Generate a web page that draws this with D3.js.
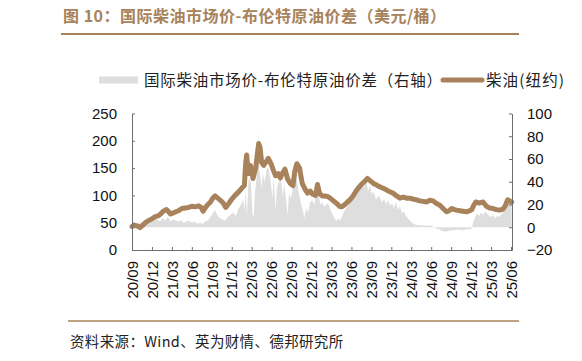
<!DOCTYPE html>
<html><head><meta charset="utf-8">
<script src="https://cdn.jsdelivr.net/npm/d3@7"></script>
<style>body{margin:0;background:#fff}svg{display:block}</style>
</head><body><svg id="c" width="582" height="361"></svg>
<script>
const title = "图 10：国际柴油市场价-布伦特原油价差（美元/桶）";
const source = "资料来源：Wind、英为财情、德邦研究所";
const seriesNames = ["国际柴油市场价-布伦特原油价差（右轴）", "柴油(纽约)"];
const tickLabels = ["20/09","20/12","21/03","21/06","21/09","21/12","22/03","22/06","22/09","22/12","23/03","23/06","23/09","23/12","24/03","24/06","24/09","24/12","25/03","25/06"];
const tickMonths = [0,3,6,9,12,15,18,21,24,27,30,33,36,39,42,45,48,51,54,57];
const leftTicks = [0,50,100,150,200,250];
const rightTicks = [-20,0,20,40,60,80,100];
// [months since 2020-09, USD/bbl]
const diesel = [[0,43],[0.4,45],[0.8,44],[1.2,41],[1.6,45],[2.0,50],[2.5,54],[3.0,57],[3.5,61],[4.0,63],[4.3,66],[4.7,71],[5.2,74],[5.5,70],[5.8,66],[6.2,68],[6.6,70],[7.0,72],[7.5,76],[8.0,77],[8.5,78],[9.0,80],[9.5,79],[10.0,81],[10.4,78],[10.7,71],[11.0,77],[11.3,82],[11.8,88],[12.2,96],[12.5,99],[12.9,95],[13.3,91],[13.7,86],[14.1,78],[14.6,86],[15.0,93],[15.5,100],[16.0,106],[16.5,113],[16.9,118],[17.1,160],[17.25,174],[17.4,150],[17.6,140],[17.8,155],[18.2,131],[18.6,150],[18.9,180],[19.05,195],[19.25,188],[19.5,160],[19.8,155],[20.2,162],[20.5,168],[20.9,158],[21.3,145],[21.6,136],[22.0,140],[22.3,132],[22.7,142],[23.0,148],[23.4,130],[23.8,122],[24.2,118],[24.5,145],[24.8,158],[25.2,150],[25.6,122],[26.0,112],[26.4,104],[26.8,108],[27.2,102],[27.6,100],[27.9,120],[28.2,104],[28.6,99],[29.0,99],[29.4,98],[29.8,95],[30.3,90],[30.8,85],[31.2,80],[31.5,79],[31.9,82],[32.4,88],[32.8,92],[33.3,100],[33.7,108],[34.0,113],[34.5,120],[35.0,126],[35.4,131],[35.8,127],[36.3,122],[36.8,119],[37.2,116],[37.6,114],[38.0,112],[38.4,109],[38.9,106],[39.3,104],[39.8,99],[40.3,95],[40.8,97],[41.3,95],[41.8,95],[42.3,93],[42.8,92],[43.3,90],[43.8,89],[44.3,88],[44.8,91],[45.3,90],[45.8,85],[46.3,82],[46.8,76],[47.3,70],[47.7,72],[48.1,76],[48.5,74],[48.8,73],[49.3,72],[49.8,71],[50.3,70],[50.8,72],[51.1,74],[51.4,82],[51.7,88],[52.2,86],[52.8,88],[53.3,80],[53.8,77],[54.3,76],[54.8,74],[55.3,73],[55.8,75],[56.1,80],[56.5,92],[56.8,90],[57.1,88]];
// [months since 2020-09, USD/bbl] right axis
const spread = [[0,3],[0.3,2],[0.6,4],[1.0,3],[1.4,5],[1.8,4],[2.2,6],[2.6,5],[3.0,7],[3.4,6],[3.8,7],[4.2,5],[4.6,8],[5.0,6],[5.4,9],[5.8,5],[6.2,7],[6.6,6],[7.0,5],[7.4,6],[7.8,4],[8.2,5],[8.6,6],[9.0,4],[9.4,5],[9.8,3],[10.2,4],[10.6,3],[11.0,5],[11.4,6],[11.8,9],[12.2,13],[12.5,15],[12.8,11],[13.2,8],[13.6,7],[14.0,6],[14.4,9],[14.8,11],[15.2,13],[15.6,10],[16.0,16],[16.4,20],[16.7,24],[16.9,15],[17.1,32],[17.3,10],[17.5,40],[17.7,44],[17.9,38],[18.1,12],[18.3,9],[18.5,30],[18.8,47],[19.0,85],[19.15,50],[19.3,44],[19.5,35],[19.7,48],[19.9,40],[20.1,45],[20.3,53],[20.6,50],[20.9,38],[21.1,25],[21.3,44],[21.6,15],[21.8,35],[22.1,40],[22.4,42],[22.7,28],[22.9,38],[23.2,23],[23.4,10],[23.6,30],[23.9,25],[24.2,35],[24.5,44],[24.8,42],[25.1,30],[25.4,21],[25.7,15],[25.9,8],[26.2,17],[26.5,13],[26.8,22],[27.1,24],[27.4,20],[27.7,30],[28.0,33],[28.3,20],[28.6,22],[28.9,18],[29.2,20],[29.5,21],[29.8,16],[30.1,12],[30.4,9],[30.7,5],[31.0,8],[31.3,6],[31.6,10],[31.9,14],[32.2,17],[32.5,19],[32.8,23],[33.1,28],[33.4,32],[33.7,35],[34.0,37],[34.3,34],[34.6,38],[34.9,35],[35.2,41],[35.5,32],[35.8,36],[36.1,29],[36.4,31],[36.7,24],[37.0,28],[37.3,26],[37.6,22],[37.9,25],[38.2,20],[38.5,24],[38.8,19],[39.1,21],[39.4,17],[39.7,22],[40.0,15],[40.3,19],[40.6,12],[40.9,14],[41.2,10],[41.5,8],[41.8,6],[42.1,4],[42.4,3],[42.7,2],[43.0,2],[43.3,1.5],[43.6,2],[43.9,1],[44.2,1.5],[44.5,1],[44.8,2],[45.1,1],[45.4,0.5],[45.7,-1],[46.0,-1.5],[46.3,-2],[46.6,-3],[46.9,-3.5],[47.2,-4],[47.5,-3],[47.8,-3.5],[48.1,-2.5],[48.4,-3],[48.7,-2],[49.0,-2.5],[49.3,-2],[49.6,-3],[49.9,-2.5],[50.2,-2],[50.5,-1.5],[50.8,-2],[51.1,-1],[51.3,4],[51.6,9],[51.9,12],[52.2,10],[52.5,13],[52.8,11],[53.1,14],[53.4,12],[53.7,10],[54.0,9],[54.3,11],[54.6,8],[54.9,10],[55.2,9],[55.5,11],[55.8,13],[56.1,16],[56.4,20],[56.7,24],[57.0,22],[57.1,19]];

const brown = "#a8825a", grey = "#dedede", axisCol = "#6e6e6e";
const svg = d3.select("#c");
const x = d3.scaleLinear().domain([0, 57.15]).range([132, 512]);
const yL = d3.scaleLinear().domain([0, 250]).range([250, 113.5]);
const yR = d3.scaleLinear().domain([-20, 100]).range([250, 113.5]);

// title
svg.append("text").attr("x", 63).attr("y", 22).text(title)
  .attr("font-family", "'Noto Sans CJK SC', sans-serif").attr("font-weight", "bold")
  .attr("font-size", 16).attr("letter-spacing", 0.5).attr("fill", brown);
svg.append("line").attr("x1", 61).attr("x2", 519).attr("y1", 34).attr("y2", 34)
  .attr("stroke", brown).attr("stroke-width", 2);

// legend
const lg = svg.append("g").attr("font-family", "'Noto Sans CJK SC', sans-serif").attr("font-size", 15.5).attr("fill", "#222");
lg.append("rect").attr("x", 99).attr("y", 76.5).attr("width", 39).attr("height", 7).attr("fill", grey);
lg.append("text").attr("x", 144).attr("y", 85.5).attr("letter-spacing", 0.75).text(seriesNames[0]);
lg.append("line").attr("x1", 443).attr("x2", 482).attr("y1", 80).attr("y2", 80)
  .attr("stroke", brown).attr("stroke-width", 5).attr("stroke-linecap", "round");
lg.append("text").attr("x", 486).attr("y", 85.5).attr("letter-spacing", 1.1).text(seriesNames[1]);

// area + line
svg.append("path").datum(spread)
  .attr("d", d3.area().x(d => x(d[0])).y0(yR(0)).y1(d => yR(d[1])))
  .attr("fill", grey);
svg.append("path").datum(diesel)
  .attr("d", d3.line().x(d => x(d[0])).y(d => yL(d[1])))
  .attr("fill", "none").attr("stroke", brown).attr("stroke-width", 5)
  .attr("stroke-linejoin", "round").attr("stroke-linecap", "round");

// axes
function style(g) {
  g.selectAll("path,line").attr("stroke", axisCol);
  g.selectAll("text").attr("font-family", "'Liberation Sans', Arial, sans-serif").attr("font-size", 15).attr("fill", "#111");
}
svg.append("g").attr("transform", "translate(132,0)")
  .call(d3.axisLeft(yL).tickValues(leftTicks).tickSize(-3).tickSizeOuter(0).tickPadding(15))
  .call(style);
svg.append("g").attr("transform", "translate(512,0)")
  .call(d3.axisRight(yR).tickValues(rightTicks).tickSize(-3).tickSizeOuter(0).tickPadding(15))
  .call(style);
const xa = svg.append("g").attr("transform", "translate(0,250)")
  .call(d3.axisBottom(x).tickValues(tickMonths).tickFormat((d, i) => tickLabels[i]).tickSize(-3).tickSizeOuter(0))
  .call(style);
xa.selectAll("text").attr("transform", "rotate(-90)").attr("x", -11).attr("y", 0)
  .attr("dy", "0.35em").style("text-anchor", "end");

// footer
svg.append("line").attr("x1", 68).attr("x2", 519).attr("y1", 321).attr("y2", 321)
  .attr("stroke", brown).attr("stroke-width", 1.5);
svg.append("text").attr("x", 70).attr("y", 347).text(source)
  .attr("font-family", "'Noto Sans CJK SC', sans-serif").attr("font-size", 14.5).attr("letter-spacing", 0.35).attr("fill", "#222");
</script></body></html>
